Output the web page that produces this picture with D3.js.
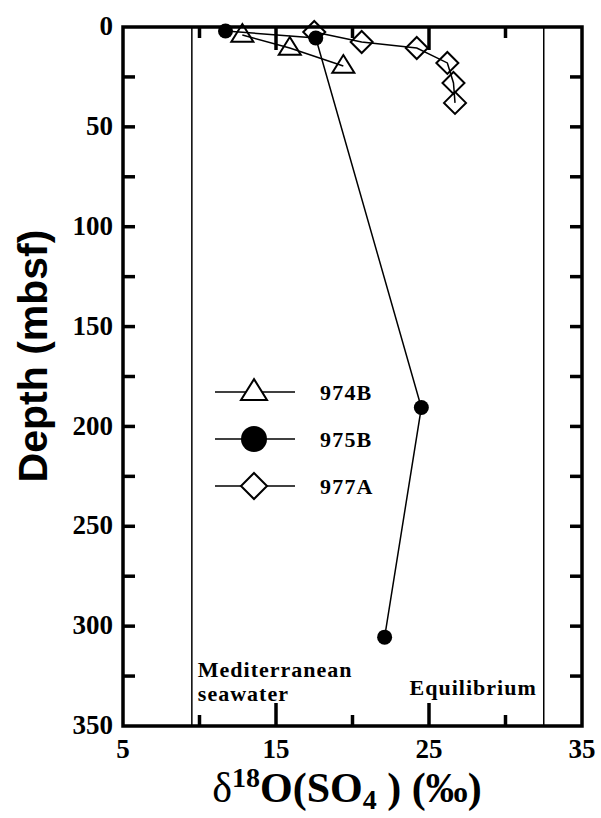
<!DOCTYPE html>
<html>
<head>
<meta charset="utf-8">
<script src="https://cdn.jsdelivr.net/npm/d3@7"></script>
<style>
  body { margin: 0; background: #fff; }
  svg { display: block; }
</style>
</head>
<body>
<div id="chart"></div>
<script>
// delta 18O of sulfate vs depth, three sites
const site974B_d18O = [12.8, 15.9, 19.4];
const site974B_depth = [4, 10.5, 19.5];
const site975B_d18O = [11.7, 17.6, 24.5, 22.1];
const site975B_depth = [2, 5.5, 190.5, 305.5];
const site977A_d18O = [17.5, 20.6, 24.2, 26.2, 26.6, 26.7];
const site977A_depth = [2.5, 7.5, 10.5, 18, 28, 38];

const xTicks = [5, 15, 25, 35];
const xMinorTicks = [10, 20, 30];
const yTicks = [0, 50, 100, 150, 200, 250, 300, 350];
const yMinorTicks = [25, 75, 125, 175, 225, 275, 325];

const seawaterValue = 9.5;
const equilibriumValue = 32.5;
const legendNames = ["974B", "975B", "977A"];

const W = 601, H = 818;
const margin = { top: 27, right: 19, bottom: 92, left: 123 };
const plotW = W - margin.left - margin.right;
const plotH = H - margin.top - margin.bottom;

const svg = d3.select("#chart").append("svg")
  .attr("width", W)
  .attr("height", H);

const g = svg.append("g")
  .attr("transform", "translate(" + margin.left + "," + margin.top + ")");

const x = d3.scaleLinear().domain([5, 35]).range([0, plotW]);
const y = d3.scaleLinear().domain([0, 350]).range([0, plotH]);

const serif = "'Liberation Serif', 'Times New Roman', serif";

// reference lines
[seawaterValue, equilibriumValue].forEach(v => {
  g.append("line")
    .attr("x1", x(v)).attr("x2", x(v))
    .attr("y1", 0).attr("y2", plotH)
    .attr("stroke", "#000")
    .attr("stroke-width", 1.5);
});

g.append("text")
  .attr("y", 677 - margin.top)
  .attr("font-family", serif)
  .attr("font-weight", "bold")
  .attr("font-size", 22)
  .attr("letter-spacing", 1)
  .selectAll("tspan")
  .data(["Mediterranean", "seawater"])
  .join("tspan")
  .attr("x", x(seawaterValue) + 6)
  .attr("dy", (d, i) => i === 0 ? 0 : 24)
  .text(d => d);

g.append("text")
  .attr("x", x(equilibriumValue) - 7)
  .attr("y", 695 - margin.top)
  .attr("text-anchor", "end")
  .attr("font-family", serif)
  .attr("font-weight", "bold")
  .attr("font-size", 22)
  .attr("letter-spacing", 1)
  .text("Equilibrium");

// ticks (inward) on all four sides
const tickGroup = g.append("g").attr("stroke", "#000").attr("stroke-width", 3.5);
xTicks.slice(1, -1).forEach(v => {
  tickGroup.append("line").attr("x1", x(v)).attr("x2", x(v)).attr("y1", plotH).attr("y2", plotH - 23);
  tickGroup.append("line").attr("x1", x(v)).attr("x2", x(v)).attr("y1", 0).attr("y2", 23);
});
xMinorTicks.forEach(v => {
  tickGroup.append("line").attr("x1", x(v)).attr("x2", x(v)).attr("y1", plotH).attr("y2", plotH - 11);
  tickGroup.append("line").attr("x1", x(v)).attr("x2", x(v)).attr("y1", 0).attr("y2", 11);
});
yTicks.slice(1, -1).concat(yMinorTicks).forEach(v => {
  tickGroup.append("line").attr("x1", 0).attr("x2", 12).attr("y1", y(v)).attr("y2", y(v));
  tickGroup.append("line").attr("x1", plotW).attr("x2", plotW - 12).attr("y1", y(v)).attr("y2", y(v));
});

// frame
g.append("rect")
  .attr("x", 0).attr("y", 0)
  .attr("width", plotW).attr("height", plotH)
  .attr("fill", "none")
  .attr("stroke", "#000")
  .attr("stroke-width", 3.5);

// tick labels
g.selectAll(".xlab")
  .data(xTicks)
  .join("text")
  .attr("class", "xlab")
  .attr("x", d => x(d))
  .attr("y", plotH + 32)
  .attr("text-anchor", "middle")
  .attr("font-family", serif)
  .attr("font-weight", "bold")
  .attr("font-size", 27)
  .text(d => d);

g.selectAll(".ylab")
  .data(yTicks)
  .join("text")
  .attr("class", "ylab")
  .attr("x", -10)
  .attr("y", d => y(d))
  .attr("dy", "0.3em")
  .attr("text-anchor", "end")
  .attr("font-family", serif)
  .attr("font-weight", "bold")
  .attr("font-size", 27)
  .text(d => d);

// axis titles
const xTitle = svg.append("text")
  .attr("x", 347)
  .attr("y", 802)
  .attr("text-anchor", "middle")
  .attr("font-family", serif)
  .attr("font-weight", "bold")
  .attr("font-size", 42);
xTitle.append("tspan").attr("font-weight", "normal").text("δ");
xTitle.append("tspan").attr("font-size", 28).attr("dy", -15).text("18");
xTitle.append("tspan").attr("dy", 15).text("O(SO");
xTitle.append("tspan").attr("font-size", 28).attr("dy", 7).text("4");
xTitle.append("tspan").attr("dy", -7).text(" ) (‰)");

svg.append("text")
  .attr("transform", "translate(47," + 356 + ") rotate(-90)")
  .attr("text-anchor", "middle")
  .attr("font-family", "'Liberation Sans', Arial, sans-serif")
  .attr("font-weight", "bold")
  .attr("font-size", 41)
  .text("Depth (mbsf)");

// series
const line = d3.line().x(d => x(d[0])).y(d => y(d[1]));
const series = [
  { name: "974B", pts: d3.zip(site974B_d18O, site974B_depth), shape: "tri" },
  { name: "975B", pts: d3.zip(site975B_d18O, site975B_depth), shape: "circle" },
  { name: "977A", pts: d3.zip(site977A_d18O, site977A_depth), shape: "diamond" }
];

function drawMarker(sel, shape, size, fill) {
  if (shape === "tri") {
    const h = size * 0.8;
    sel.append("path")
      .attr("d", "M0," + (-h * 0.62) + "L" + (size / 2) + "," + (h * 0.38) + "L" + (-size / 2) + "," + (h * 0.38) + "Z")
      .attr("fill", fill).attr("stroke", "#000").attr("stroke-width", 2);
  } else if (shape === "circle") {
    sel.append("circle").attr("r", size / 2).attr("fill", "#000");
  } else {
    const s = size / 2;
    sel.append("path")
      .attr("d", "M0," + (-s) + "L" + s + ",0L0," + s + "L" + (-s) + ",0Z")
      .attr("fill", fill).attr("stroke", "#000").attr("stroke-width", 2);
  }
}

series.forEach(s => {
  g.append("path")
    .attr("d", line(s.pts))
    .attr("fill", "none")
    .attr("stroke", "#000")
    .attr("stroke-width", 1.5);
});
series.forEach(s => {
  s.pts.forEach(p => {
    const m = g.append("g").attr("transform", "translate(" + x(p[0]) + "," + y(p[1]) + ")");
    drawMarker(m, s.shape, s.shape === "circle" ? 15 : 22, "none");
  });
});

// legend
const legend = svg.append("g");
legendNames.forEach((name, i) => {
  const s = series[i];
  const ly = 392 + i * 47;
  legend.append("line")
    .attr("x1", 215).attr("x2", 295)
    .attr("y1", ly).attr("y2", ly)
    .attr("stroke", "#000").attr("stroke-width", 1.5);
  const m = legend.append("g").attr("transform", "translate(254," + ly + ")");
  drawMarker(m, s.shape, 26, "#fff");
  legend.append("text")
    .attr("x", 320)
    .attr("y", ly)
    .attr("dy", "0.35em")
    .attr("font-family", serif)
    .attr("font-weight", "bold")
    .attr("font-size", 22)
    .attr("letter-spacing", 1.2)
    .text(name);
});
</script>
</body>
</html>
